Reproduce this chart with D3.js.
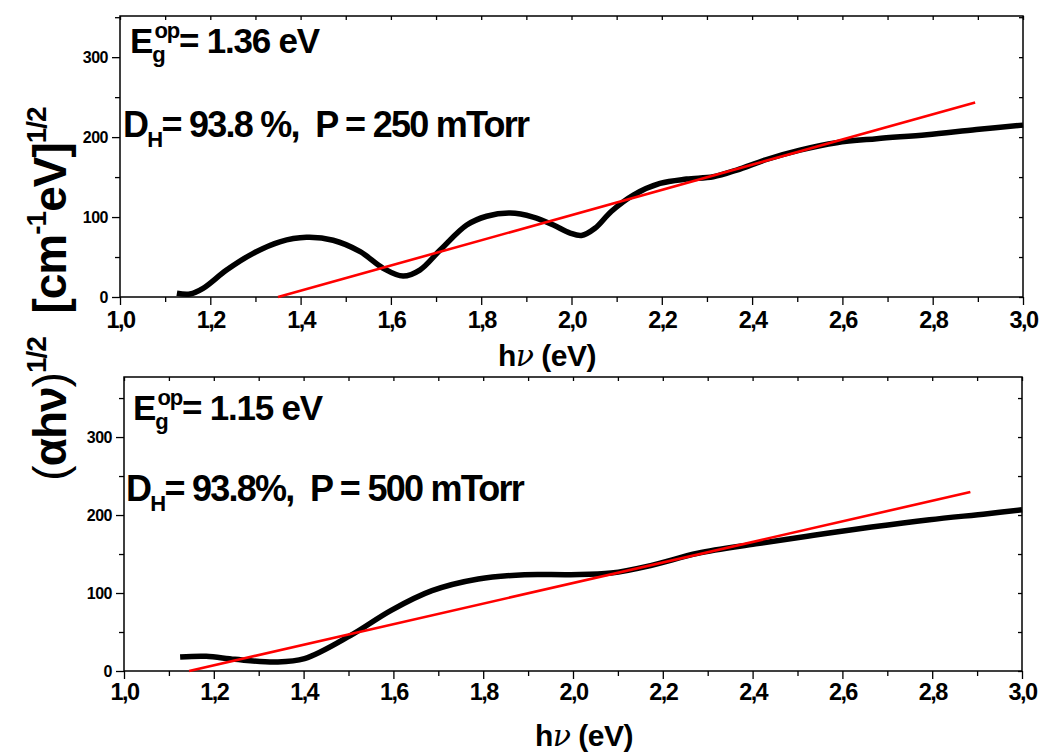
<!doctype html>
<html>
<head>
<meta charset="utf-8">
<title>Optical gap</title>
<script src="https://d3js.org/d3.v7.min.js"></script>
<style>
  body { margin: 0; background: #fff; }
  text { font-family: "Liberation Sans", Arial, sans-serif; font-weight: bold; white-space: pre; }
</style>
</head>
<body>
<script>

// ---- data ----
var xMajor = [1.0, 1.2, 1.4, 1.6, 1.8, 2.0, 2.2, 2.4, 2.6, 2.8, 3.0];
var xMinor = [1.1, 1.3, 1.5, 1.7, 1.9, 2.1, 2.3, 2.5, 2.7, 2.9];
var yMajor = [0, 100, 200, 300];
var yMinor = [50, 150, 250, 350];

// panel 1 : P = 250 mTorr
var topHv    = [1.126, 1.155, 1.184, 1.236, 1.295, 1.354, 1.413, 1.472, 1.532, 1.583, 1.627, 1.664, 1.709, 1.768, 1.812, 1.864, 1.915, 1.960, 1.997, 2.022, 2.052, 2.088, 2.137, 2.196, 2.255, 2.314, 2.366, 2.432, 2.506, 2.587, 2.676, 2.787, 2.897, 3.0];
var topAlpha = [4.6, 3.7, 10.8, 33.7, 54.6, 69, 74.6, 71, 56.7, 35.9, 26.2, 33.7, 58.7, 90, 101, 105, 100, 90, 80, 77, 86, 107, 127.5, 142, 147.5, 150.4, 158.8, 172, 183.7, 193, 198, 203, 209.5, 215];
var topFitX  = [1.35, 2.894];
var topFitY  = [0, 243.4];

// panel 2 : P = 500 mTorr
var botHv    = [1.125, 1.183, 1.247, 1.338, 1.402, 1.505, 1.595, 1.686, 1.789, 1.892, 1.995, 2.085, 2.175, 2.278, 2.407, 2.536, 2.665, 2.794, 2.923, 3.0];
var botAlpha = [18, 18.8, 15, 11.5, 15.8, 45.7, 77.8, 103, 118, 123.5, 123.5, 125.6, 135.5, 151, 163, 174, 184.6, 194, 201.7, 206.8];
var botFitX  = [1.145, 2.885];
var botFitY  = [0, 229.5];

var svg = d3.select("body").append("svg")
    .attr("width", 1042)
    .attr("height", 754);

function fmtX(d) { return d.toFixed(1).replace(".", ","); }

function drawPanel(p) {
    var x = d3.scaleLinear().domain([1, 3]).range([p.left, p.right]);
    var y = d3.scaleLinear().domain([0, p.ymax]).range([p.bottom, p.top]);
    var g = svg.append("g");

    // bottom axis, majors + minors
    var ax = g.append("g").attr("transform", "translate(0," + p.bottom + ")")
        .call(d3.axisBottom(x).tickValues(xMajor).tickSize(8).tickFormat(fmtX));
    ax.selectAll("text").attr("font-size", "23.5px").attr("fill", "#000")
        .attr("letter-spacing", "-1.6px").attr("y", p.labY).attr("dy", 0);
    g.append("g").attr("transform", "translate(0," + p.bottom + ")")
        .call(d3.axisBottom(x).tickValues(xMinor).tickSize(5).tickFormat(""));

    // left axis
    var ay = g.append("g").attr("transform", "translate(" + p.left + ",0)")
        .call(d3.axisLeft(y).tickValues(yMajor).tickSize(8).tickPadding(4));
    ay.selectAll("text").attr("font-size", "16px").attr("fill", "#000")
        .attr("letter-spacing", "-0.5px");
    g.append("g").attr("transform", "translate(" + p.left + ",0)")
        .call(d3.axisLeft(y).tickValues(yMinor.filter(function(v) { return v < p.ymax; })).tickSize(5).tickFormat(""));

    // mirrored small inward ticks on top and right
    g.append("g").attr("transform", "translate(0," + p.top + ")")
        .call(d3.axisTop(x).tickValues(xMajor.concat(xMinor)).tickSize(-4).tickFormat(""));
    g.append("g").attr("transform", "translate(" + p.right + ",0)")
        .call(d3.axisRight(y).tickValues(yMajor.concat(yMinor).filter(function(v) { return v < p.ymax; })).tickSize(-4).tickFormat(""));

    g.selectAll(".domain").remove();
    g.selectAll(".tick line").attr("stroke", "#000").attr("stroke-width", 1.3);

    g.append("rect")
        .attr("x", p.left).attr("y", p.top)
        .attr("width", p.right - p.left).attr("height", p.bottom - p.top)
        .attr("fill", "none").attr("stroke", "#000").attr("stroke-width", 1.5);

    // data curve
    var pts = p.hv.map(function(v, i) { return [v, p.alpha[i]]; });
    g.append("path")
        .datum(pts)
        .attr("fill", "none")
        .attr("stroke", "#000")
        .attr("stroke-width", 5.5)
        .attr("stroke-linejoin", "round")
        .attr("d", d3.line().curve(d3.curveCatmullRom.alpha(0.5))
            .x(function(d) { return x(d[0]); })
            .y(function(d) { return y(d[1]); }));

    // linear fit
    var fit = p.fitX.map(function(v, i) { return [v, p.fitY[i]]; });
    g.append("path")
        .datum(fit)
        .attr("fill", "none")
        .attr("stroke", "#ff0000")
        .attr("stroke-width", 2.6)
        .attr("d", d3.line().x(function(d) { return x(d[0]); }).y(function(d) { return y(d[1]); }));

    // annotations
    var t1 = g.append("text").attr("x", p.left + p.annDx).attr("y", p.top + p.ann1)
        .attr("font-size", "35px").attr("letter-spacing", "-1.2px");
    t1.append("tspan").text("E");
    t1.append("tspan").attr("font-size", "22px").attr("dy", 9).text("g");
    t1.append("tspan").attr("font-size", "22px").attr("dx", -10).attr("dy", -24).text("op");
    t1.append("tspan").attr("dy", 15).text(p.eg);

    var t2 = g.append("text").attr("x", p.left + p.annDx - 7).attr("y", p.top + p.ann2)
        .attr("font-size", "36px").attr("letter-spacing", "-1.75px");
    t2.append("tspan").text("D");
    t2.append("tspan").attr("font-size", "22px").attr("dy", 10).text("H");
    t2.append("tspan").attr("dy", -10).text(p.cond);

    // x title
    var xt = g.append("text").attr("x", p.titleX).attr("y", p.titleY)
        .attr("text-anchor", "middle").attr("font-size", "30px").attr("letter-spacing", "-0.5px");
    xt.append("tspan").text("h");
    xt.append("tspan").attr("font-family", "DejaVu Serif").attr("font-style", "italic").attr("font-weight", "normal").text("ν");
    xt.append("tspan").text(" (eV)");
}

drawPanel({
    left: 120, right: 1023, top: 16, bottom: 297, ymax: 351.5, labY: 31,
    hv: topHv, alpha: topAlpha, fitX: topFitX, fitY: topFitY,
    annDx: 10, ann1: 37, ann2: 121,
    eg: "= 1.36 eV", cond: "= 93.8 %,  P = 250 mTorr",
    titleX: 547, titleY: 366
});

drawPanel({
    left: 124, right: 1022, top: 377, bottom: 671, ymax: 377, labY: 29,
    hv: botHv, alpha: botAlpha, fitX: botFitX, fitY: botFitY,
    annDx: 9, ann1: 43, ann2: 124,
    eg: "= 1.15 eV", cond: "= 93.8%,  P = 500 mTorr",
    titleX: 584, titleY: 746
});

// shared y title, rotated
var yl = svg.append("text")
    .attr("transform", "translate(66,294) rotate(-90)")
    .attr("text-anchor", "middle")
    .attr("font-size", "46px")
    .attr("letter-spacing", "-1px");
yl.append("tspan").attr("font-weight", "normal").text("(");
yl.append("tspan").text("αhν");
yl.append("tspan").attr("font-weight", "normal").text(")");
yl.append("tspan").attr("font-size", "28px").attr("dy", -20).text("1/2");
yl.append("tspan").attr("dy", 20).text("  [cm");
yl.append("tspan").attr("font-size", "28px").attr("dy", -20).text("-1");
yl.append("tspan").attr("dy", 20).text("eV]");
yl.append("tspan").attr("font-size", "28px").attr("dy", -20).text("1/2");

</script>
</body>
</html>
